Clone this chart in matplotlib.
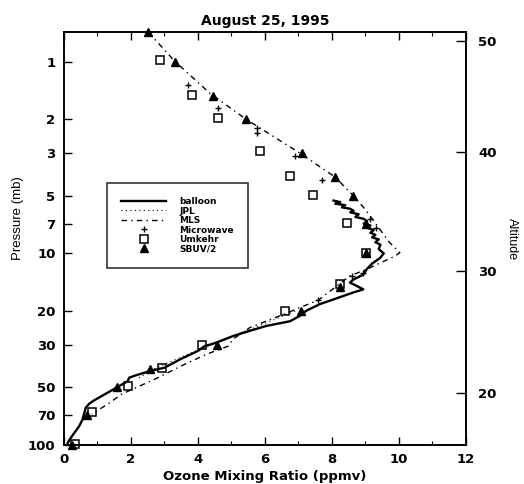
import matplotlib
matplotlib.use("Agg")
import matplotlib.pyplot as plt
from matplotlib.ticker import FixedLocator, NullLocator, MultipleLocator

# Balloon ozonesonde profile (ozone ppmv, pressure mb)
balloon_o3 = [8.05, 8.25, 8.1, 8.4, 8.3, 8.55, 8.65, 8.55, 8.8, 8.7, 8.95, 9.05, 8.95,
              9.15, 9.05, 9.25, 9.15, 9.3, 9.2, 9.4, 9.3, 9.45, 9.4, 9.55, 9.43, 9.2,
              9.04, 8.94, 8.64, 8.54, 8.94, 8.64, 8.04, 7.64, 7.24, 7.04, 6.75, 6.05,
              5.5, 5.05, 4.6, 4.4, 4.2, 4.0, 3.5, 3.0, 2.6, 2.2, 1.95, 1.9, 1.5, 0.9,
              0.75, 0.65, 0.6, 0.55, 0.45, 0.3, 0.2, 0.12, 0.1]
balloon_p = [5.3, 5.4, 5.5, 5.6, 5.75, 5.85, 6.0, 6.1, 6.25, 6.45, 6.6, 6.8, 7.0,
             7.15, 7.35, 7.55, 7.8, 8.0, 8.25, 8.45, 8.75, 9.0, 9.5, 10.0, 10.6, 11.3,
             12.1, 12.9, 13.7, 14.2, 15.4, 16.0, 17.4, 18.4, 19.9, 21.2, 22.6, 23.9,
             25.5, 27.0, 29.0, 29.8, 30.5, 32.3, 35.5, 39.5, 41.0, 43.0, 44.5, 46.5,
             51.0, 58.5, 61.0, 64.0, 69.0, 74.0, 80.0, 87.0, 92.0, 97.0, 100.0]

# JPL lidar profile
jpl_o3 = [6.9, 5.8, 4.8, 4.0, 3.3, 2.7, 2.2]
jpl_p = [20.0, 24.0, 28.0, 32.0, 36.0, 40.0, 45.0]

# MLS profile
mls_o3 = [2.52, 3.3, 4.36, 5.45, 7.05, 8.1, 8.64, 9.0, 9.4, 9.73, 10.03, 9.9, 9.04,
          8.54, 7.6, 6.5, 5.55, 5.05, 4.9, 4.26, 3.51, 2.72, 1.72, 1.32, 0.83]
mls_p = [0.7, 0.99, 1.46, 2.0, 3.0, 4.0, 5.0, 5.9, 7.35, 8.8, 9.9, 10.3, 12.1,
         13.1, 17.5, 21.0, 24.4, 28.0, 30.5, 33.6, 38.6, 45.3, 54.3, 61.0, 69.0]

# Ground-based microwave retrievals
mw_o3 = [2.5, 3.71, 4.61, 5.75, 5.75, 6.9, 7.7, 9.13, 9.33, 8.94, 8.6, 7.6]
mw_p = [0.71, 1.32, 1.74, 2.22, 2.36, 3.1, 4.15, 6.65, 7.4, 12.6, 13.1, 17.6]

# Umkehr retrievals
umk_o3 = [2.87, 3.81, 4.61, 5.85, 6.75, 7.44, 8.44, 9.03, 8.24, 6.6, 4.11, 2.92,
          1.92, 0.83, 0.33]
umk_p = [0.98, 1.49, 1.97, 2.93, 3.96, 4.93, 6.9, 9.9, 14.5, 19.9, 29.9, 39.5,
         49.0, 67.5, 99.0]

# SBUV/2 retrievals
sbuv_o3 = [2.52, 3.31, 4.46, 5.45, 7.1, 8.09, 8.64, 9.03, 9.03, 8.24, 7.09, 4.56,
           2.57, 1.57, 0.68, 0.25]
sbuv_p = [0.7, 1.0, 1.5, 2.0, 3.0, 4.0, 5.0, 7.0, 10.0, 15.0, 20.0, 30.0, 40.0,
          50.0, 70.0, 100.0]

# Axis ticks
p_ticks = [1, 2, 3, 5, 7, 10, 20, 30, 50, 70, 100]
x_ticks = [0, 2, 4, 6, 8, 10, 12]
alt_labels = [50, 40, 30, 20]
alt_pressure = [0.78, 2.95, 12.3, 53.5]

fig = plt.figure(figsize=(5.24, 4.84), dpi=100)
ax = fig.add_axes([0.122, 0.0806, 0.767, 0.853])

ax.plot(balloon_o3, balloon_p, color="black", lw=1.7, label="balloon", zorder=3)
ax.plot(jpl_o3, jpl_p, color="black", lw=0.8, ls=(0, (1, 3)), label="JPL", zorder=2)
ax.plot(mls_o3, mls_p, color="black", lw=1.0, ls=(0, (4, 3, 1, 3)), label="MLS",
        zorder=2)
ax.plot(mw_o3, mw_p, ls="none", marker="+", ms=4.5, mew=1.0, color="black",
        label="Microwave", zorder=4, clip_on=False)
ax.plot(umk_o3, umk_p, ls="none", marker="s", ms=6, mew=1.1, mfc="none",
        mec="black", label="Umkehr", zorder=4, clip_on=False)
ax.plot(sbuv_o3, sbuv_p, ls="none", marker="^", ms=5.5, color="black",
        label="SBUV/2", zorder=4, clip_on=False)

ax.set_yscale("log")
ax.set_ylim(100, 0.7)
ax.set_xlim(0, 12)

ax.yaxis.set_major_locator(FixedLocator(p_ticks))
ax.yaxis.set_minor_locator(NullLocator())
ax.set_yticklabels([str(v) for v in p_ticks])
ax.xaxis.set_major_locator(FixedLocator(x_ticks))
ax.xaxis.set_minor_locator(MultipleLocator(1))

ax.tick_params(axis="both", which="major", direction="in", length=6, width=1.0,
               labelsize=9.5, pad=6)
ax.tick_params(axis="x", which="both", top=True, direction="in")
ax.tick_params(axis="x", which="minor", length=3, width=0.8)
for lab in ax.get_xticklabels() + ax.get_yticklabels():
    lab.set_fontweight("bold")
for s in ax.spines.values():
    s.set_linewidth(1.2)

ax.set_xlabel("Ozone Mixing Ratio (ppmv)", fontsize=9.5, fontweight="bold",
              labelpad=3)
ax.set_ylabel("Pressure (mb)", fontsize=9.5, family="Liberation Sans")
ax.yaxis.set_label_coords(-0.1, 0.55)
ax.set_title("August 25, 1995", fontsize=10, fontweight="bold", pad=5)

# Altitude scale on the right
ax2 = ax.twinx()
ax2.set_yscale("log")
ax2.set_ylim(100, 0.7)
ax2.yaxis.set_major_locator(FixedLocator(alt_pressure))
ax2.yaxis.set_minor_locator(NullLocator())
ax2.set_yticklabels([str(v) for v in alt_labels])
ax2.tick_params(axis="y", which="major", direction="in", length=7, width=1.0,
                labelsize=9.5, pad=9)
for lab in ax2.get_yticklabels():
    lab.set_fontweight("bold")
ax2.set_ylabel("Altitude", rotation=270, fontsize=9, family="Liberation Sans",
               va="center")
ax2.yaxis.set_label_coords(1.114, 0.5)
for s in ax2.spines.values():
    s.set_linewidth(1.2)

leg = ax.legend(loc="upper left", bbox_to_anchor=(0.204, 0.6225),
                bbox_transform=fig.transFigure, frameon=True, fancybox=False,
                edgecolor="black", fontsize=6.5, handlelength=5.0,
                handletextpad=1.4, labelspacing=0.05, borderpad=1.6,
                borderaxespad=0)
leg.get_frame().set_linewidth(1.2)
for t in leg.get_texts():
    t.set_fontweight("bold")

fig.savefig("out.png", dpi=100)
